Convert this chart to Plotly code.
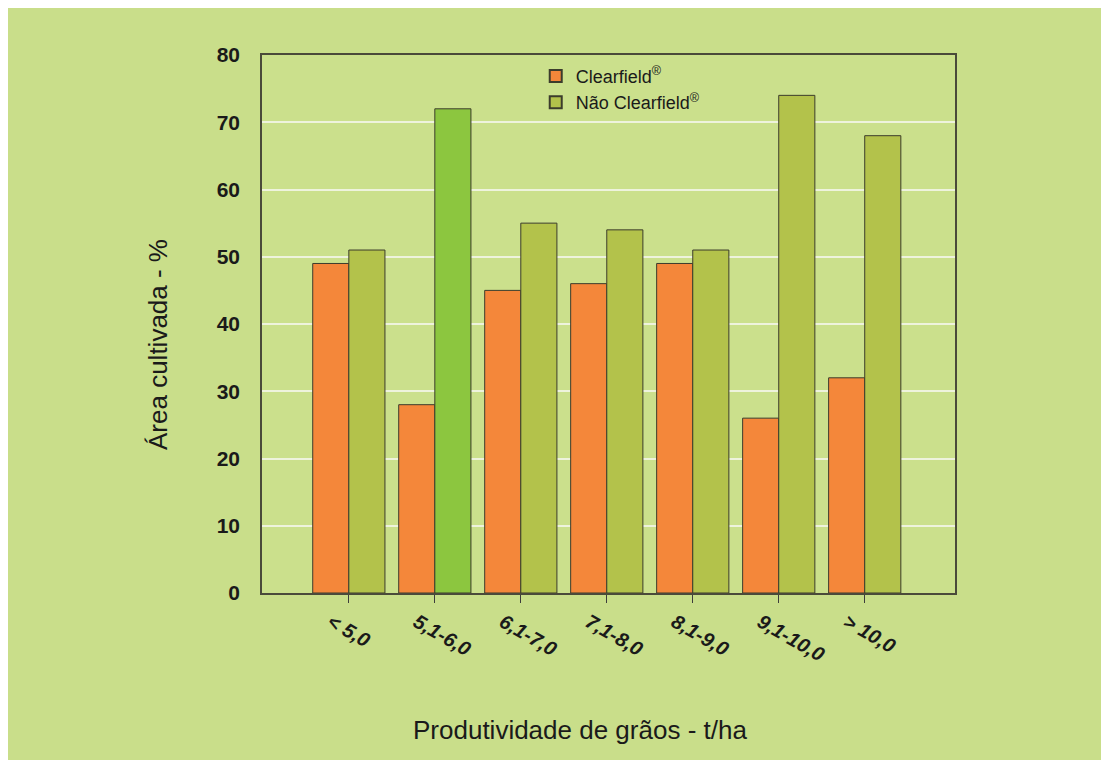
import plotly.graph_objects as go

categories = ["< 5,0", "5,1-6,0", "6,1-7,0", "7,1-8,0", "8,1-9,0", "9,1-10,0", "> 10,0"]
clearfield = [49, 28, 45, 46, 49, 26, 32]
nao_clearfield = [51, 72, 55, 54, 51, 74, 68]
x_title = "Produtividade de grãos - t/ha"
y_title = "Área cultivada - %"

orange = "#f4873a"
olive = "#b3c24b"
bright = "#8cc63f"
green_colors = [bright if i == 1 else olive for i in range(len(categories))]
xpos = list(range(len(categories)))

fig = go.Figure()
fig.add_trace(go.Bar(x=xpos, y=clearfield, name="Clearfield<sup>®</sup>",
                     marker=dict(color=orange, line=dict(color="#3c3c2c", width=1))))
fig.add_trace(go.Bar(x=xpos, y=nao_clearfield, name="Não Clearfield<sup>®</sup>",
                     marker=dict(color=green_colors, line=dict(color="#3c3c2c", width=1))))

fig.update_layout(
    width=1101, height=752,
    margin=dict(l=254, r=154, t=47, b=167),
    paper_bgcolor="#c9de8a",
    plot_bgcolor="#cbe08c",
    barmode="group", bargap=0.16, bargroupgap=0,
    font=dict(family="Liberation Sans, Arial, sans-serif", color="#1a1a1a"),
    showlegend=True,
    legend=dict(x=0.395, y=0.995, xanchor="left", yanchor="top", bgcolor="rgba(0,0,0,0)",
                font=dict(size=18, color="#1a1a1a"), tracegroupgap=0, itemsizing="constant"),
    annotations=[
        dict(text=x_title, xref="paper", yref="paper", x=(580 - 262) / 693, y=-137 / 538,
             xanchor="center", yanchor="middle", showarrow=False,
             font=dict(size=26, color="#1a1a1a")),
        dict(text=y_title, xref="paper", yref="paper", x=-(262 - 158) / 693, y=(593 - 345) / 538,
             xanchor="center", yanchor="middle", showarrow=False, textangle=-90,
             font=dict(size=26, color="#1a1a1a")),
    ],
)
fig.update_xaxes(
    range=[-1.01, 7.05], tickmode="array", tickvals=xpos,
    ticktext=["<b><i>" + c + "</i></b>" for c in categories],
    tickangle=30, tickfont=dict(size=20, color="#1a1a1a"),
    ticklabelshift=-18,
    ticks="outside", ticklen=8, tickcolor="#3c3c3c",
    showline=True, linecolor="#4a4a3a", linewidth=1.5, mirror=True, showgrid=False, zeroline=False,
)
fig.update_yaxes(
    range=[0, 80], dtick=10, tickfont=dict(size=21, color="#1a1a1a"),
    tickprefix="<b>", ticksuffix="</b>", ticklabelstandoff=16,
    ticks="", showline=True, linecolor="#4a4a3a", linewidth=1.5, mirror=True,
    showgrid=True, gridcolor="#eef3dc", gridwidth=1.5, zeroline=False,
)

fig.write_html("out.html")
